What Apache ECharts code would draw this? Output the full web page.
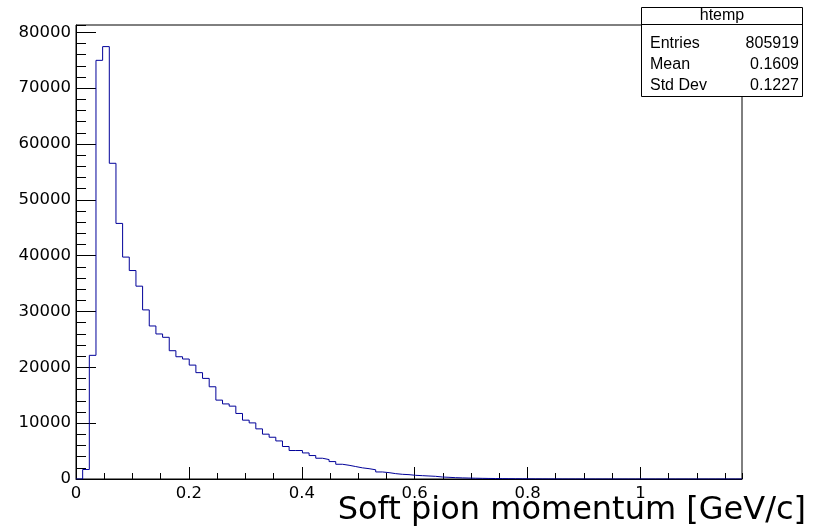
<!DOCTYPE html>
<html>
<head>
<meta charset="utf-8"/>
<title>htemp</title>
<script type="text/javascript" src="https://cdn.jsdelivr.net/npm/echarts@6/dist/echarts.min.js"></script>
<style type="text/css">
	body{
		margin: 0px;
		padding: 0px;
		background: #fff;
	}
	#main{
		width: 816px;
		height: 530px;
	}
</style>
</head>
<body>
<div id="main"></div>
<script type="text/javascript">

	// histogram definition (100 bins)
	var xMin = 0;
	var xMax = 1.18;
	var binWidth = 0.0118;
	var yMax = 81320;

	// bin contents
	var counts = [
		0, 1700, 22150, 74990, 77450, 56550, 45780, 39750, 37340, 34540,
		30290, 27410, 25980, 25380, 22980, 21900, 21490, 20400, 19050, 18020,
		16520, 14130, 13450, 13050, 11740, 10540, 10050, 8980, 8030, 7480,
		6820, 5820, 5100, 5100, 4670, 4200, 3720, 3480, 3120, 2640,
		2460, 2230, 2000, 1850, 1650, 1260, 1140, 960, 840, 780,
		660, 600, 540, 480, 360, 300, 240, 200, 170, 140,
		120, 100, 85, 70, 60, 50, 40, 32, 26, 20,
		16, 12, 10, 8, 6, 5, 4, 3, 2, 2,
		1, 1, 0, 0, 0, 0, 0, 0, 0, 0,
		0, 0, 0, 0, 0, 0, 0, 0, 0, 0
	];

	// stats box
	var statsTitle = 'htemp';
	var statsNames = ['Entries', 'Mean', 'Std Dev'];
	var statsValues = ['805919', '0.1609', '0.1227'];

	var xTitle = 'Soft pion momentum [GeV/c]';

	var axisFont = 'DejaVu Sans';
	var statFont = 'Liberation Sans';

	// step line points on the bin edges
	function getStepData(){
		var arr = [];
		for(var i=0;i<counts.length;i++){
			arr.push([xMin + i*binWidth, counts[i]]);
		}
		arr.push([xMin + counts.length*binWidth, counts[counts.length-1]]);
		return arr;
	}

	function majorX(){
		return {
			type: 'value', min: xMin, max: xMax, interval: 0.2, position: 'bottom',
			axisLine: {show: true, onZero: false, lineStyle: {color: '#000', width: 1}},
			axisTick: {show: true, inside: true, length: 12, lineStyle: {color: '#000'}},
			axisLabel: {show: true, margin: 6, color: '#000', fontFamily: axisFont, fontSize: 16.5, showMaxLabel: false,
				formatter: function(v){ return String(+v.toFixed(4)); }},
			splitLine: {show: false}
		};
	}
	function minorX(){
		return {
			type: 'value', min: xMin, max: xMax, interval: 0.05, position: 'bottom',
			axisLine: {show: false, onZero: false},
			axisTick: {show: true, inside: true, length: 6, lineStyle: {color: '#000'}},
			axisLabel: {show: false},
			splitLine: {show: false}
		};
	}
	function majorY(){
		return {
			type: 'value', min: 0, max: yMax, interval: 10000, position: 'left',
			axisLine: {show: true, onZero: false, lineStyle: {color: '#000', width: 1}},
			axisTick: {show: true, inside: true, length: 20, lineStyle: {color: '#000'}},
			axisLabel: {show: true, margin: 5, color: '#000', fontFamily: axisFont, fontSize: 16.5, showMaxLabel: false,
				formatter: function(v){ return String(v); }},
			splitLine: {show: false}
		};
	}
	function minorY(){
		return {
			type: 'value', min: 0, max: yMax, interval: 2000, position: 'left',
			axisLine: {show: false, onZero: false},
			axisTick: {show: true, inside: true, length: 10, lineStyle: {color: '#000'}},
			axisLabel: {show: false},
			splitLine: {show: false}
		};
	}

	// stats box graphics
	function statsGraphic(){
		var g = [];
		var bx = 641.5, by = 7.5, bw = 161, bh = 89;
		g.push({type: 'rect', z: 100, shape: {x: bx, y: by, width: bw, height: bh},
			style: {fill: '#fff', stroke: '#000', lineWidth: 1}});
		g.push({type: 'line', z: 101, shape: {x1: bx, y1: 24.5, x2: bx+bw, y2: 24.5},
			style: {stroke: '#000', lineWidth: 1}});
		g.push({type: 'text', z: 101, x: bx + bw/2, y: 16,
			style: {text: statsTitle, fill: '#000', font: '16px "' + statFont + '"', textAlign: 'center', textVerticalAlign: 'middle'}});
		var rowY = [43.5, 65, 85.5];
		for(var i=0;i<statsNames.length;i++){
			g.push({type: 'text', z: 101, x: 650, y: rowY[i],
				style: {text: statsNames[i], fill: '#000', font: '16px "' + statFont + '"', textAlign: 'left', textVerticalAlign: 'middle'}});
			g.push({type: 'text', z: 101, x: 799, y: rowY[i],
				style: {text: statsValues[i], fill: '#000', font: '16px "' + statFont + '"', textAlign: 'right', textVerticalAlign: 'middle'}});
		}
		// axis title
		g.push({type: 'text', z: 102, right: 10, top: 495,
			style: {text: xTitle, fill: '#000', font: '32px "' + axisFont + '"'}});
		return g;
	}

	var myChart = echarts.init(document.getElementById('main'));
	var option = {
		animation: false,
		backgroundColor: '#fff',
		grid: {
			show: true, left: 76, right: 74, top: 25, bottom: 51,
			borderColor: '#000', borderWidth: 1, backgroundColor: 'transparent'
		},
		xAxis: [majorX(), minorX()],
		yAxis: [majorY(), minorY()],
		series: [{
			type: 'line',
			xAxisIndex: 0,
			yAxisIndex: 0,
			step: 'end',
			symbol: 'none',
			silent: true,
			lineStyle: {color: '#000099', width: 1},
			data: getStepData()
		}],
		graphic: statsGraphic()
	};
	myChart.setOption(option);
</script>
</body>
</html>
